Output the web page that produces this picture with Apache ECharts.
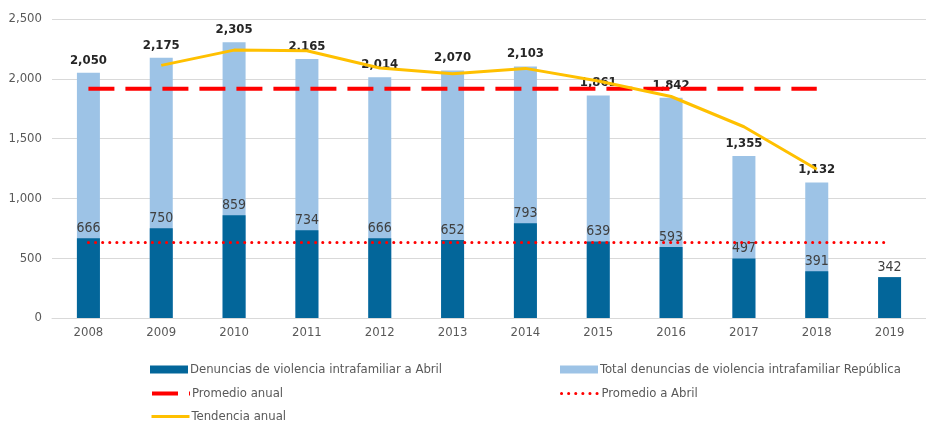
<!DOCTYPE html>
<html>
<head>
<meta charset="utf-8">
<script src="https://cdn.jsdelivr.net/npm/echarts@6/dist/echarts.min.js"></script>
<style>
  html, body { margin: 0; padding: 0; background: #fff; }
  #chart { width: 926px; height: 422px; }
</style>
</head>
<body>
<div id="chart"></div>
<script>
// datos
var years = ['2008','2009','2010','2011','2012','2013','2014','2015','2016','2017','2018','2019'];
var totalRepublica = [2050, 2175, 2305, 2165, 2014, 2070, 2103, 1861, 1842, 1355, 1132, null];
var denunciasAbril = [666, 750, 859, 734, 666, 652, 793, 639, 593, 497, 391, 342];
var promedioAnual = [1916, 1916, 1916, 1916, 1916, 1916, 1916, 1916, 1916, 1916, 1916, null];
var promedioAbril = [632, 632, 632, 632, 632, 632, 632, 632, 632, 632, 632, 632];
var tendencia = [null, 2112, 2240, 2235, 2090, 2042, 2087, 1982, 1852, 1599, 1244, null];

var FONT = '"Liberation Sans Narrow", "DejaVu Sans Condensed", "Liberation Sans", Arial, sans-serif';

var chart = echarts.init(document.getElementById('chart'));

function fmt(v) {
    return String(v).replace(/\B(?=(\d{3})+(?!\d))/g, ',');
}

// una leyenda por elemento, para colocarlas en dos columnas
function legendAt(name, left, top, icon, lineW) {
    var lg = {
        data: [icon ? { name: name, icon: icon } : name],
        left: left,
        top: top,
        itemWidth: 38,
        itemHeight: 8,
        textStyle: { fontFamily: FONT, fontSize: 13, color: '#595959', padding: [0, 0, 0, -3] },
        selectedMode: false
    };
    if (!icon) {
        lg.itemStyle = { opacity: 0 };
        lg.lineStyle = { width: lineW };
    }
    return lg;
}

chart.setOption({
    animation: false,
    textStyle: { fontFamily: FONT },
    grid: { left: 52, top: 19, height: 299, width: 889, containLabel: false },
    legend: [
        legendAt('Denuncias de violencia intrafamiliar a Abril', 145, 358, 'rect'),
        legendAt('Total denuncias de violencia intrafamiliar República', 555, 358, 'rect'),
        legendAt('Promedio anual', 145, 382, null, 4),
        legendAt('Promedio a Abril', 555, 382, null, 3),
        legendAt('Tendencia anual', 145, 405, null, 3)
    ],
    xAxis: {
        type: 'category',
        data: years,
        axisTick: { show: false },
        axisLine: { lineStyle: { color: '#d9d9d9' } },
        axisLabel: { fontFamily: FONT, fontSize: 13, color: '#595959', margin: 8 }
    },
    yAxis: {
        type: 'value',
        min: 0,
        max: 2500,
        interval: 500,
        axisLine: { show: false },
        axisTick: { show: false },
        splitLine: { lineStyle: { color: '#d9d9d9', width: 1 } },
        axisLabel: {
            fontFamily: FONT, fontSize: 13, color: '#595959', margin: 10,
            formatter: function (v) { return fmt(v); }
        }
    },
    series: [
        {
            name: 'Total denuncias de violencia intrafamiliar República',
            type: 'bar',
            data: totalRepublica,
            barWidth: 23,
            barGap: '-100%',
            itemStyle: { color: '#9dc3e6' },
            label: {
                show: true, position: 'top', distance: 6,
                fontFamily: FONT, fontSize: 13, fontWeight: 'bold', color: '#262626',
                formatter: function (p) { return fmt(p.value); }
            },
            z: 2
        },
        {
            name: 'Denuncias de violencia intrafamiliar a Abril',
            type: 'bar',
            data: denunciasAbril,
            barWidth: 23,
            barGap: '-100%',
            itemStyle: { color: '#03669a' },
            label: {
                show: true, position: 'top', distance: 3,
                fontFamily: FONT, fontSize: 14, color: '#404040'
            },
            z: 3
        },
        {
            name: 'Promedio anual',
            type: 'line',
            data: promedioAnual,
            symbol: 'none',
            lineStyle: { color: '#ff0000', width: 4, type: [26, 11] },
            itemStyle: { color: '#ff0000' },
            z: 4
        },
        {
            name: 'Promedio a Abril',
            type: 'line',
            data: promedioAbril,
            symbol: 'none',
            lineStyle: { color: '#ff0000', width: 3, type: [0.1, 7], cap: 'round' },
            itemStyle: { color: '#ff0000' },
            z: 4
        },
        {
            name: 'Tendencia anual',
            type: 'line',
            data: tendencia,
            symbol: 'none',
            lineStyle: { color: '#ffc000', width: 3 },
            itemStyle: { color: '#ffc000' },
            z: 5
        }
    ]
});
</script>
</body>
</html>
